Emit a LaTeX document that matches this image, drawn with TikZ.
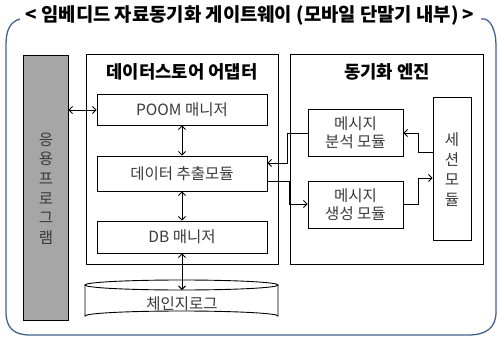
\documentclass[tikz,border=0pt]{standalone}
\usepackage{fontspec}
\setmainfont{Noto Sans CJK KR}
\usetikzlibrary{arrows.meta}
\definecolor{framec}{HTML}{41628F}
\definecolor{txt}{HTML}{3A3A3A}
\definecolor{grayfill}{HTML}{A6A6A6}
\begin{document}
\begin{tikzpicture}[x=1pt,y=-1pt,
  box/.style={draw=black,line width=0.9pt,fill=white,inner sep=0pt},
  body/.style={font=\fontsize{15.5}{18}\selectfont,text=txt},
  head/.style={font=\fontsize{17.7}{20}\selectfont\bfseries,text=black},
  arr/.style={draw=black,line width=0.9pt,-{Straight Barb[length=3.5pt,width=7pt]}},
  darr/.style={draw=black,line width=0.9pt,{Straight Barb[length=3.5pt,width=7pt]}-{Straight Barb[length=3.5pt,width=7pt]}}
]
\useasboundingbox (0,0) rectangle (498,337);
% title and frame
\node[font=\fontsize{18.8}{20}\selectfont\bfseries,inner sep=0pt] (title) at (250,15.5) {< 임베디드 자료동기화 게이트웨이 (모바일 단말기 내부) >};
\draw[framec,line width=1.3pt] (20,19) .. controls (10,22) and (6,30) .. (6,45) -- (6,312) .. controls (6,328) and (14,335) .. (30,335) -- (468,335) .. controls (486,335) and (496,328) .. (496,312) -- (496,45) .. controls (496,30) and (490,17) .. (481,19);
% application
\node[box,fill=grayfill,minimum width=45pt,minimum height=265pt] (app) at (45.5,187.5) {};
\node[body,align=center,font=\fontsize{15.5}{19.6}\selectfont] (apptxt) at (46,188.5) {응\\용\\프\\로\\그\\램};
% adapter
\node[box,minimum width=192pt,minimum height=210pt] (adapter) at (182,159) {};
\node[head] (adaptertitle) at (182,72) {데이터스토어 어댑터};
\node[box,body,minimum width=170pt,minimum height=31pt] (poom) at (182,109.5) {POOM 매니저};
\node[box,body,minimum width=170pt,minimum height=35pt] (extract) at (182,173.5) {데이터 추출모듈};
\node[box,body,minimum width=170pt,minimum height=32pt] (dbm) at (182,237) {DB 매니저};
% engine
\node[box,minimum width=193pt,minimum height=210pt] (engine) at (386.5,159) {};
\node[head] (enginetitle) at (387,72) {동기화 엔진};
\node[box,body,align=center,minimum width=95pt,minimum height=47pt] (anal) at (355.5,132.5) {메시지\\분석 모듈};
\node[box,body,align=center,minimum width=95pt,minimum height=47pt] (gen) at (355.5,204.5) {메시지\\생성 모듈};
\node[box,minimum width=38pt,minimum height=143pt] (session) at (452,168.5) {};
\node[body,align=center,font=\fontsize{15.5}{20}\selectfont] (sessiontxt) at (452,170) {세\\션\\모\\듈};
% change log cylinder
\draw[line width=0.9pt,fill=white] (85,285) -- (85,316) arc[start angle=180,end angle=360,x radius=96.5pt,y radius=-5pt] -- (278,285);
\draw[line width=0.9pt,fill=white] (181.5,285) ellipse[x radius=96.5pt,y radius=5pt];
\node[body] (log) at (182,304) {체인지로그};
\coordinate (logtop) at (182,290);
% connectors
\draw[darr] (app.east |- 0,110) -- (poom.west |- 0,110);
\draw[darr] (poom) -- (extract);
\draw[darr] (extract) -- (dbm);
\draw[darr] (dbm) -- (logtop);
\draw[arr] (session.west |- 0,152) -- (418,152) -- (418,133) -- (anal.east |- 0,133);
\draw[arr] (anal.west |- 0,133) -- (287,133) -- (287,163) -- (extract.east |- 0,163);
\draw[arr] (extract.east |- 0,181) -- (289.5,181) -- (289.5,204) -- (gen.west |- 0,204);
\draw[arr] (gen.east |- 0,204) -- (418,204) -- (418,178) -- (session.west |- 0,178);
\end{tikzpicture}
\end{document}
